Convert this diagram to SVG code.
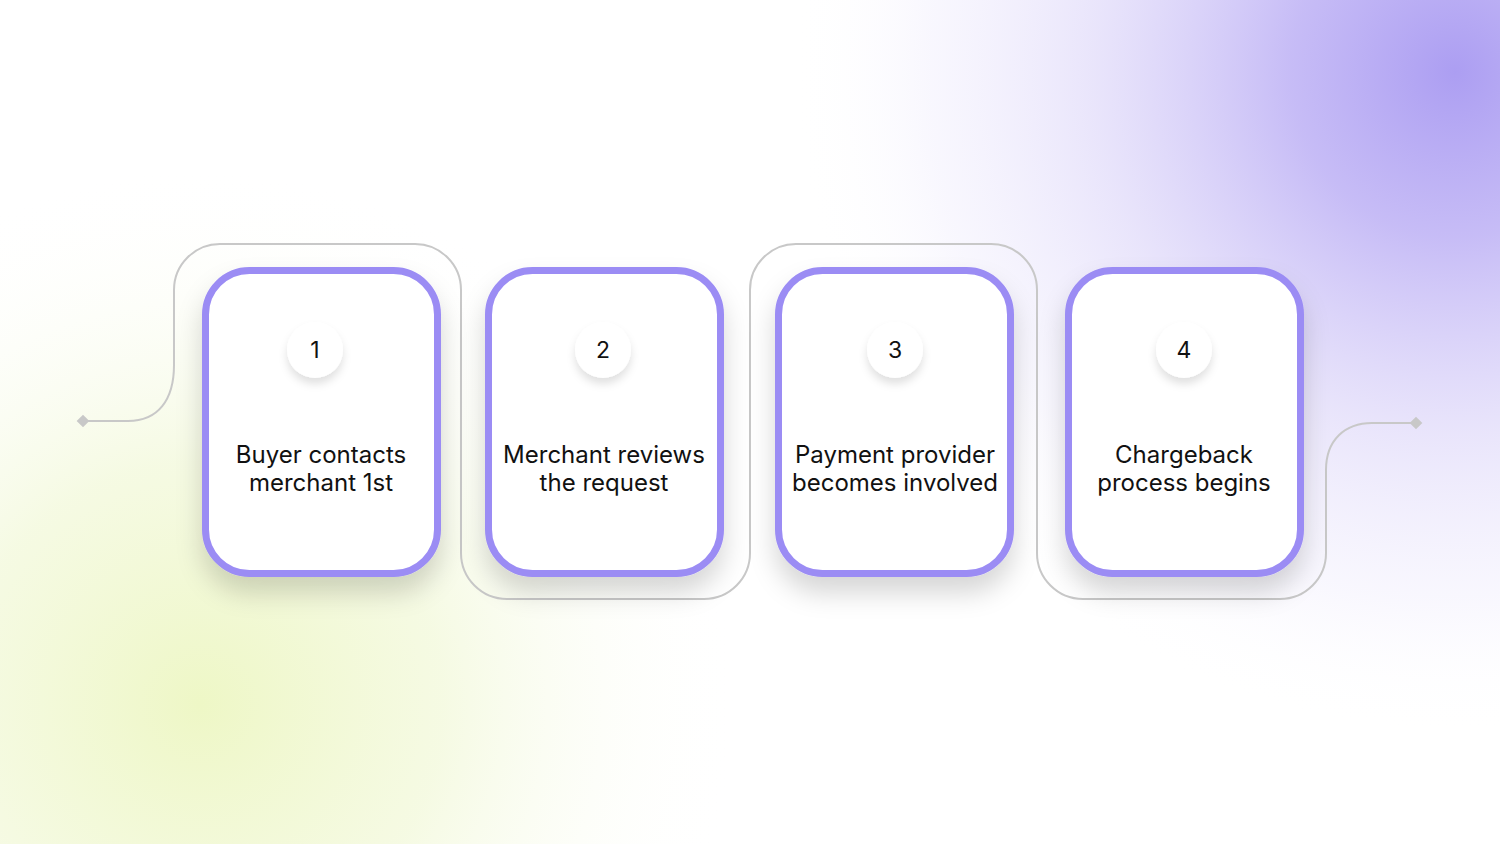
<svg xmlns="http://www.w3.org/2000/svg" width="1500" height="844" viewBox="0 0 1500 844">
  <defs>
    <radialGradient id="bgPurple" cx="1455" cy="72" r="660" gradientUnits="userSpaceOnUse">
      <stop offset="0" stop-color="#ac9ef2" stop-opacity="1"/>
      <stop offset="0.25" stop-color="#bfb3f5" stop-opacity="0.88"/>
      <stop offset="0.55" stop-color="#dcd5f9" stop-opacity="0.62"/>
      <stop offset="0.8" stop-color="#efecfd" stop-opacity="0.4"/>
      <stop offset="1" stop-color="#ffffff" stop-opacity="0"/>
    </radialGradient>
    <radialGradient id="bgGreen" cx="200" cy="705" r="540" gradientUnits="userSpaceOnUse">
      <stop offset="0" stop-color="#eef7c6" stop-opacity="1"/>
      <stop offset="0.45" stop-color="#f3f9dc" stop-opacity="0.8"/>
      <stop offset="1" stop-color="#ffffff" stop-opacity="0"/>
    </radialGradient>
    <filter id="cardShadow" x="-30%" y="-30%" width="160%" height="170%">
      <feDropShadow dx="0" dy="16" stdDeviation="13" flood-color="#000000" flood-opacity="0.16"/>
    </filter>
    <filter id="dotShadow" x="-50%" y="-50%" width="200%" height="220%">
      <feDropShadow dx="0" dy="6" stdDeviation="4" flood-color="#000000" flood-opacity="0.12"/>
    </filter>
    <style>
      .card { fill: #ffffff; stroke: #9b8cf4; stroke-width: 7; }
      .dot { fill: #ffffff; }
      .num { font-family: Inter, "Liberation Sans", sans-serif; font-size: 23px; fill: #111111; text-anchor: middle; }
      .label { font-family: Inter, "Liberation Sans", sans-serif; font-size: 24px; fill: #111111; text-anchor: middle; }
      .wire { fill: none; stroke: #c8c8c8; stroke-width: 2; }
      .end { fill: #c8c8c8; }
    </style>
  </defs>

  <rect x="0" y="0" width="1500" height="844" fill="#ffffff"/>
  <rect x="0" y="0" width="1500" height="844" fill="url(#bgGreen)"/>
  <rect x="0" y="0" width="1500" height="844" fill="url(#bgPurple)"/>

  <g id="connectors">
    <path class="wire" d="M83,421 H128 C158,421 174,400 174,365 V290 A46,46 0 0 1 220,244 H415 A46,46 0 0 1 461,290 V553 A46,46 0 0 0 507,599 H704 A46,46 0 0 0 750,553 V290 A46,46 0 0 1 796,244 H991 A46,46 0 0 1 1037,290 V553 A46,46 0 0 0 1083,599 H1280 A46,46 0 0 0 1326,553 V470 C1326,440 1345,423 1372,423 H1416"/>
    <rect class="end" x="78.5" y="416.5" width="9" height="9" transform="rotate(45 83 421)"/>
    <rect class="end" x="1411.5" y="418.5" width="9" height="9" transform="rotate(45 1416 423)"/>
  </g>

  <g id="step1">
    <rect class="card" x="205.5" y="270.5" width="232" height="303" rx="44" filter="url(#cardShadow)"/>
    <circle class="dot" cx="315" cy="350" r="28" filter="url(#dotShadow)"/>
    <text class="num" x="315" y="358">1</text>
    <text class="label" x="321" y="463">Buyer contacts</text>
    <text class="label" x="321" y="491">merchant 1st</text>
  </g>

  <g id="step2">
    <rect class="card" x="488.5" y="270.5" width="232" height="303" rx="44" filter="url(#cardShadow)"/>
    <circle class="dot" cx="603" cy="350" r="28" filter="url(#dotShadow)"/>
    <text class="num" x="603" y="358">2</text>
    <text class="label" x="604" y="463">Merchant reviews</text>
    <text class="label" x="604" y="491">the request</text>
  </g>

  <g id="step3">
    <rect class="card" x="778.5" y="270.5" width="232" height="303" rx="44" filter="url(#cardShadow)"/>
    <circle class="dot" cx="895" cy="350" r="28" filter="url(#dotShadow)"/>
    <text class="num" x="895" y="358">3</text>
    <text class="label" x="895" y="463">Payment provider</text>
    <text class="label" x="895" y="491">becomes involved</text>
  </g>

  <g id="step4">
    <rect class="card" x="1068.5" y="270.5" width="232" height="303" rx="44" filter="url(#cardShadow)"/>
    <circle class="dot" cx="1184" cy="350" r="28" filter="url(#dotShadow)"/>
    <text class="num" x="1184" y="358">4</text>
    <text class="label" x="1184" y="463">Chargeback</text>
    <text class="label" x="1184" y="491">process begins</text>
  </g>
</svg>
